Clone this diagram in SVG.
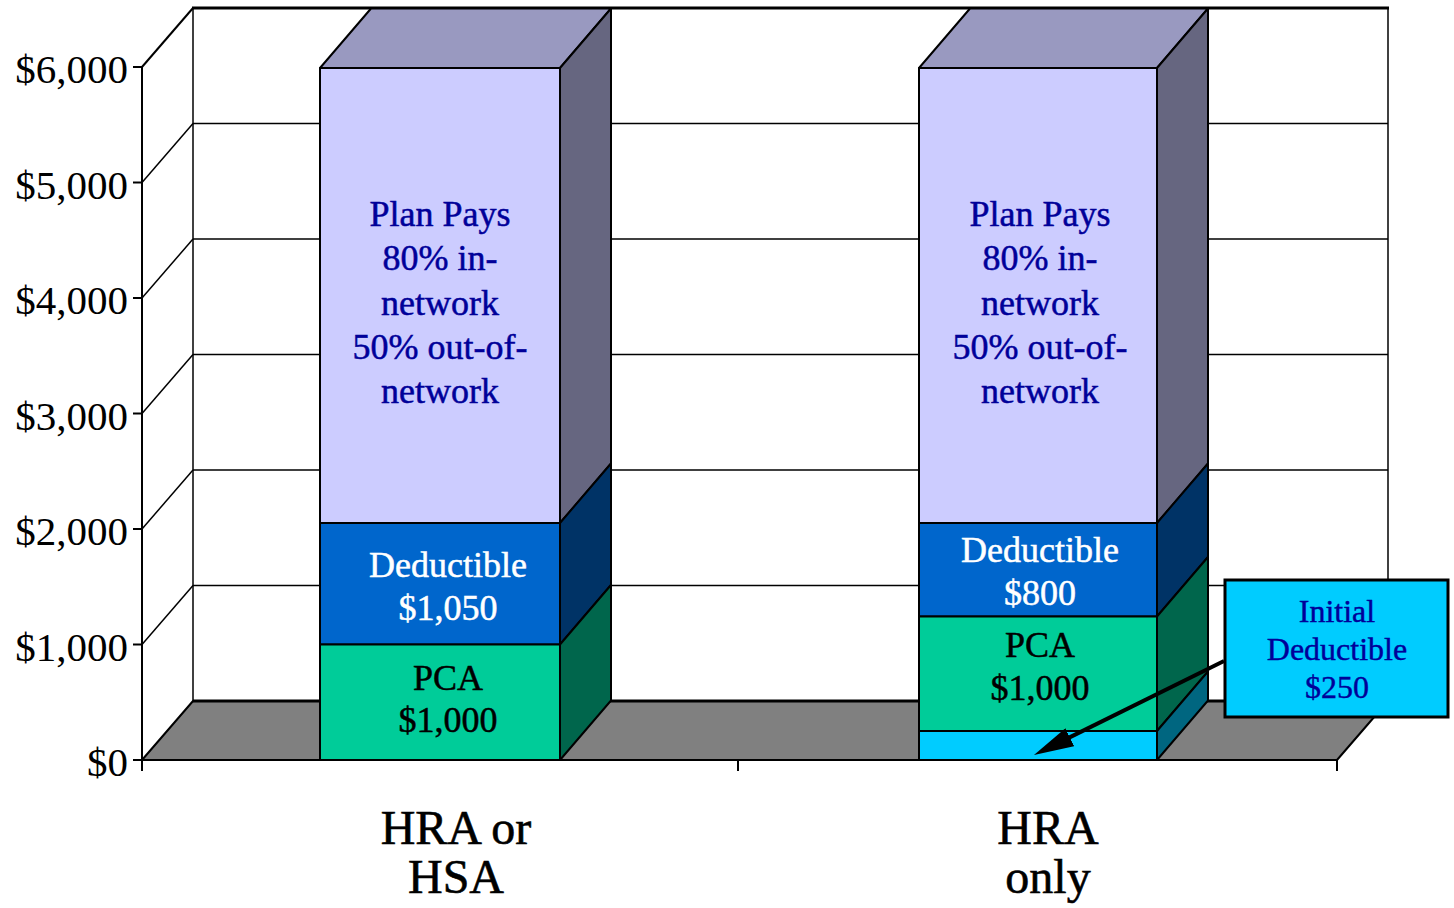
<svg xmlns="http://www.w3.org/2000/svg" width="1454" height="908" viewBox="0 0 1454 908">
  <style>
    .grid { stroke: #000; stroke-width: 1.5; fill: none; }
    .edge { stroke: #000; stroke-width: 2; stroke-linejoin: round; }
    .axis { font-family: "Liberation Serif", "Times New Roman", serif; font-size: 41px; fill: #000; text-anchor: end; }
    .cat { font-family: "Liberation Serif", "Times New Roman", serif; font-size: 48px; fill: #000; stroke: #000; stroke-width: 0.6px; text-anchor: middle; }
    .lbl { font-family: "Liberation Serif", "Times New Roman", serif; font-size: 36px; text-anchor: middle; stroke-width: 0.5px; }
    .navy { fill: #000099; stroke: #000099; }
    .white { fill: #ffffff; stroke: #ffffff; }
    .black { fill: #000000; stroke: #000000; }
    .call { font-family: "Liberation Serif", "Times New Roman", serif; font-size: 32px; fill: #000099; stroke: #000099; stroke-width: 0.4px; text-anchor: middle; }
  </style>
  <defs>
    <marker id="head" viewBox="0 0 40 20" refX="20" refY="10" markerWidth="40" markerHeight="20" markerUnits="userSpaceOnUse" orient="auto">
      <path d="M0,0 L40,10 L0,20 Z" fill="#000"/>
    </marker>
  </defs>

  <rect width="1454" height="908" fill="#fff"/>

  <!-- back wall and gridlines -->
  <g id="walls">
    <g class="grid">
      <line x1="193" y1="123.5" x2="1388" y2="123.5"/>
      <line x1="193" y1="239" x2="1388" y2="239"/>
      <line x1="193" y1="354.5" x2="1388" y2="354.5"/>
      <line x1="193" y1="470" x2="1388" y2="470"/>
      <line x1="193" y1="585.5" x2="1388" y2="585.5"/>
      <line x1="142" y1="182.5" x2="193" y2="123.5"/>
      <line x1="142" y1="298" x2="193" y2="239"/>
      <line x1="142" y1="413.5" x2="193" y2="354.5"/>
      <line x1="142" y1="529" x2="193" y2="470"/>
      <line x1="142" y1="644.5" x2="193" y2="585.5"/>
      <line x1="193" y1="8" x2="193" y2="701"/>
      <line x1="1388" y1="8" x2="1388" y2="701"/>
    </g>
    <line x1="142" y1="67" x2="193" y2="8" stroke="#000" stroke-width="2"/>
    <line x1="192" y1="8" x2="1389" y2="8" stroke="#000" stroke-width="3"/>
  </g>

  <!-- floor -->
  <g id="floor">
    <polygon points="142,760 193,701 1388,701 1337,760" fill="#808080" stroke="#000" stroke-width="2" stroke-linejoin="round"/>
    <line x1="193" y1="701" x2="1388" y2="701" stroke="#000" stroke-width="3"/>
  </g>

  <!-- bar: HRA or HSA -->
  <g id="bar-hra-hsa" class="edge">
    <polygon points="320,68 371,8.5 611,8.5 560,68" fill="#9999C0"/>
    <polygon points="560,68 611,8.5 611,463.5 560,523" fill="#666680"/>
    <polygon points="560,523 611,463.5 611,585 560,644.5" fill="#003366"/>
    <polygon points="560,644.5 611,585 611,700.5 560,760" fill="#00664C"/>
    <rect x="320" y="68" width="240" height="455" fill="#CCCCFF"/>
    <rect x="320" y="523" width="240" height="121.5" fill="#0066CC"/>
    <rect x="320" y="644.5" width="240" height="115.5" fill="#00CC99"/>
  </g>

  <!-- bar: HRA only -->
  <g id="bar-hra-only" class="edge">
    <polygon points="919,68 970,8.5 1208,8.5 1157,68" fill="#9999C0"/>
    <polygon points="1157,68 1208,8.5 1208,463.5 1157,523" fill="#666680"/>
    <polygon points="1157,523 1208,463.5 1208,557 1157,616.5" fill="#003366"/>
    <polygon points="1157,616.5 1208,557 1208,671.5 1157,731" fill="#00664C"/>
    <polygon points="1157,731 1208,671.5 1208,700.5 1157,760" fill="#006680"/>
    <rect x="919" y="68" width="238" height="455" fill="#CCCCFF"/>
    <rect x="919" y="523" width="238" height="93.5" fill="#0066CC"/>
    <rect x="919" y="616.5" width="238" height="114.5" fill="#00CC99"/>
    <rect x="919" y="731" width="238" height="29" fill="#00CCFF"/>
  </g>

  <!-- value axis and category ticks -->
  <g id="axes" stroke="#000" stroke-width="2">
    <line x1="142" y1="67" x2="142" y2="771"/>
    <line x1="133" y1="67" x2="142" y2="67"/>
    <line x1="133" y1="182.5" x2="142" y2="182.5"/>
    <line x1="133" y1="298" x2="142" y2="298"/>
    <line x1="133" y1="413.5" x2="142" y2="413.5"/>
    <line x1="133" y1="529" x2="142" y2="529"/>
    <line x1="133" y1="644.5" x2="142" y2="644.5"/>
    <line x1="133" y1="760" x2="142" y2="760"/>
    <line x1="142" y1="760" x2="1337" y2="760"/>
    <line x1="738" y1="760" x2="738" y2="771"/>
    <line x1="1337" y1="760" x2="1337" y2="771"/>
  </g>

  <g id="axis-labels">
    <text class="axis" x="128" y="83">$6,000</text>
    <text class="axis" x="128" y="198.5">$5,000</text>
    <text class="axis" x="128" y="314">$4,000</text>
    <text class="axis" x="128" y="429.5">$3,000</text>
    <text class="axis" x="128" y="545">$2,000</text>
    <text class="axis" x="128" y="660.5">$1,000</text>
    <text class="axis" x="128" y="776">$0</text>
    <text class="cat" x="456" y="844">HRA or</text>
    <text class="cat" x="456" y="893">HSA</text>
    <text class="cat" x="1048" y="844">HRA</text>
    <text class="cat" x="1048" y="893">only</text>
  </g>

  <!-- segment labels -->
  <g id="labels-hra-hsa" class="lbl">
    <text class="navy" x="440" y="226">Plan Pays</text>
    <text class="navy" x="440" y="270">80% in-</text>
    <text class="navy" x="440" y="314.5">network</text>
    <text class="navy" x="440" y="358.5">50% out-of-</text>
    <text class="navy" x="440" y="403">network</text>
    <text class="white" x="448" y="577">Deductible</text>
    <text class="white" x="448" y="620">$1,050</text>
    <text class="black" x="448" y="690">PCA</text>
    <text class="black" x="448" y="732">$1,000</text>
  </g>
  <g id="labels-hra-only" class="lbl">
    <text class="navy" x="1040" y="226">Plan Pays</text>
    <text class="navy" x="1040" y="270">80% in-</text>
    <text class="navy" x="1040" y="314.5">network</text>
    <text class="navy" x="1040" y="358.5">50% out-of-</text>
    <text class="navy" x="1040" y="403">network</text>
    <text class="white" x="1040" y="562">Deductible</text>
    <text class="white" x="1040" y="605">$800</text>
    <text class="black" x="1040" y="657">PCA</text>
    <text class="black" x="1040" y="700">$1,000</text>
  </g>

  <!-- callout box -->
  <g id="callout">
    <rect x="1225" y="580" width="223" height="137" fill="#00CCFF" stroke="#000" stroke-width="3"/>
    <text class="call" x="1337" y="622">Initial</text>
    <text class="call" x="1337" y="660">Deductible</text>
    <text class="call" x="1337" y="698">$250</text>
  </g>

  <g id="connectors">
    <line x1="1224" y1="661" x2="1051.9" y2="746.1" stroke="#000" stroke-width="4" marker-end="url(#head)"/>
  </g>
</svg>
